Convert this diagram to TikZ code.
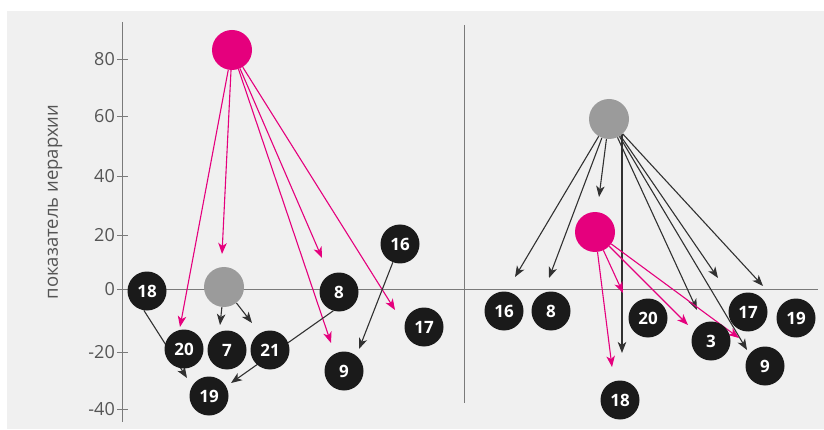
\documentclass[tikz,border=0pt]{standalone}
\usepackage{fontspec}
\setmainfont{Open Sans}
\usetikzlibrary{arrows.meta}
\definecolor{bgc}{HTML}{F0F0F0}
\definecolor{mag}{HTML}{E5007D}
\definecolor{gry}{HTML}{9B9B9B}
\definecolor{blk}{HTML}{1A1A1A}
\definecolor{axc}{HTML}{7A7A7A}
\definecolor{txt}{HTML}{555555}
\pgfdeclarelayer{bg}
\pgfdeclarelayer{edges}
\pgfsetlayers{bg,edges,main}
\begin{document}
\begin{tikzpicture}[x=1pt,y=-1pt,
  num/.style={circle,fill=blk,minimum size=39pt,inner sep=0pt,text=white,font=\fontsize{17}{17}\selectfont\bfseries},
  hubm/.style={circle,fill=mag,minimum size=40pt,inner sep=0pt},
  hubg/.style={circle,fill=gry,minimum size=40pt,inner sep=0pt},
  karr/.style={draw=blk!90,line width=1.1pt,-{Stealth[length=11pt,width=8.5pt,inset=3pt]}},
  marr/.style={draw=mag,line width=1.1pt,-{Stealth[length=11pt,width=8.5pt,inset=3pt]}},
  axisline/.style={draw=axc,line width=0.9pt},
  ticklab/.style={font=\fontsize{18}{18}\selectfont,text=txt,anchor=east,inner sep=0pt}
]
\useasboundingbox (0,0) rectangle (824,430);
\begin{pgfonlayer}{bg}
  \fill[white] (0,0) rectangle (824,430);
  \fill[bgc] (7,11) rectangle (824,429);
  \draw[axisline] (122,22) -- (122,422);
  \draw[axisline] (122,289) -- (818,289);
  \draw[axisline] (464,25) -- (464,403);
  \foreach \v/\y in {80/59,60/116,40/176,20/235,0/289,-20/352,-40/409}{
    \draw[axisline] (117,\y) -- (128,\y);
    \node[ticklab] (tl\v) at (115,\y) {\v};
  }
  \node[rotate=90,font=\fontsize{18.5}{18.5}\selectfont,text=txt,inner sep=0pt] (ylab) at (55,202) {показатель иерархии};
\end{pgfonlayer}

% left panel nodes
\node[hubm] (m1) at (232,50) {};
\node[hubg] (g1) at (224,287) {};
\node[num] (a18) at (147,291) {18};
\node[num] (a20) at (184,349) {20};
\node[num] (a7) at (227,350) {7};
\node[num] (a21) at (270,350) {21};
\node[num] (a19) at (209,396) {19};
\node[num] (a8) at (339,292) {8};
\node[num] (a9) at (344,371) {9};
\node[num] (a16) at (400,244) {16};
\node[num] (a17) at (424,327) {17};

% right panel nodes
\node[hubg] (g2) at (609,119) {};
\node[hubm] (m2) at (595,232) {};
\node[num] (b16) at (504,311) {16};
\node[num] (b8) at (551,311) {8};
\node[num] (b20) at (648,318) {20};
\node[num] (b3) at (711,341) {3};
\node[num] (b17) at (748,312) {17};
\node[num] (b19) at (796,318) {19};
\node[num] (b9) at (765,366) {9};
\node[num] (b18) at (620,400) {18};

% arrow tips (free ends)
\coordinate (ta20) at (180,327);
\coordinate (tag) at (222,254);
\coordinate (ta9) at (331,343);
\coordinate (ta8) at (322,258);
\coordinate (ta17) at (395,310);
\coordinate (ta7) at (220,325);
\coordinate (ta21) at (252,323);
\coordinate (ta19a) at (187,378);
\coordinate (ta19b) at (231,383);
\coordinate (ta9b) at (359,349);
\coordinate (tb16) at (515,277);
\coordinate (tb8) at (549,278);
\coordinate (tbm) at (599,197);
\coordinate (tbv) at (622,353);
\coordinate (tb3) at (697,310);
\coordinate (tb9) at (747,350);
\coordinate (tb17a) at (718,278);
\coordinate (tb17b) at (763,286);
\coordinate (tb18) at (612,367);
\coordinate (tb20) at (623,293);
\coordinate (tb3m) at (688,325);
\coordinate (tb9m) at (739,338);

\begin{pgfonlayer}{edges}
  \draw[marr] (m1) -- (ta20);
  \draw[marr] (m1) -- (tag);
  \draw[marr] (m1) -- (ta9);
  \draw[marr] (m1) -- (ta8);
  \draw[marr] (m1) -- (ta17);
  \draw[karr] (g1) -- (ta7);
  \draw[karr] (g1) -- (ta21);
  \draw[karr] (a18.261) -- (ta19a);
  \draw[karr] (a8.253) -- (ta19b);
  \draw[karr] (a16) -- (ta9b);

  \draw[karr] (g2) -- (tb16);
  \draw[karr] (g2) -- (tb8);
  \draw[karr] (g2) -- (tbm);
  \draw[karr] (g2.310) -- (g2.310 |- tbv);
  \draw[karr] (g2) -- (tb3);
  \draw[karr] (g2) -- (tb9);
  \draw[karr] (g2) -- (tb17a);
  \draw[karr] (g2) -- (tb17b);
  \draw[marr] (m2) -- (tb18);
  \draw[marr] (m2) -- (tb20);
  \draw[marr] (m2) -- (tb3m);
  \draw[marr] (m2) -- (tb9m);
\end{pgfonlayer}
\end{tikzpicture}
\end{document}
